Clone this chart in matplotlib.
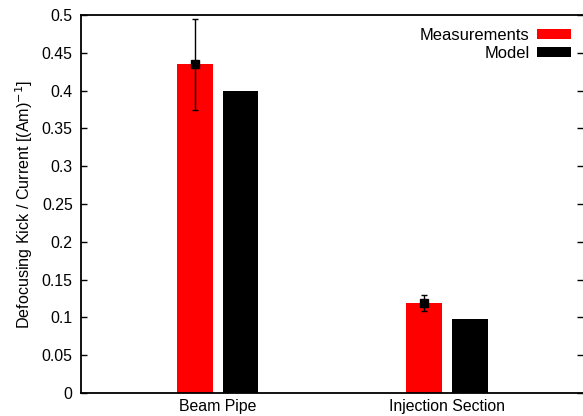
import matplotlib
matplotlib.use("Agg")
import matplotlib.pyplot as plt
from matplotlib.patches import Patch
import numpy as np

plt.rcParams['font.family'] = ['Liberation Sans', 'DejaVu Sans']

categories = ["Beam Pipe", "Injection Section"]
measurements = [0.435, 0.119]
measurement_err = [0.06, 0.01]
model = [0.40, 0.098]

fig = plt.figure(figsize=(5.83, 4.16), dpi=100)
ax = fig.add_axes([81 / 583, 23 / 416, 502 / 583, 378 / 416])

x = np.arange(len(categories))
w = 0.155
off = 0.0995
ax.bar(x - off, measurements, w, color="#ff0000", linewidth=0)
ax.bar(x + off, model, w, color="#000000", linewidth=0)
ax.errorbar(x - off, measurements, yerr=measurement_err, fmt="s", color="black",
            ms=5.5, elinewidth=1.0, capsize=2.5, capthick=1.0)

ax.set_xlim(-0.598, 1.594)
ax.set_ylim(0, 0.5)
ax.set_yticks(np.arange(0, 0.501, 0.05))
ax.set_yticklabels(["0", "0.05", "0.1", "0.15", "0.2", "0.25", "0.3", "0.35",
                    "0.4", "0.45", "0.5"])
ax.set_xticks(x)
ax.set_xticklabels(categories)
ax.tick_params(axis="x", length=0, pad=4, labelsize=11.4)
ax.tick_params(axis="y", direction="in", length=4, width=1, pad=6, labelsize=11.4,
               right=True)
for s in ["left", "bottom", "top"]:
    ax.spines[s].set_linewidth(1.3)
ax.spines["right"].set_visible(False)

ax.set_ylabel("Defocusing Kick / Current [(Am)$^{-1}$]", fontsize=11.6, labelpad=5)

handles = [Patch(facecolor="#ff0000"), Patch(facecolor="#000000")]
ax.legend(handles, ["Measurements", "Model"], loc="upper right", frameon=False,
          markerfirst=False, fontsize=11.9, handlelength=2.05, handleheight=0.55,
          handletextpad=0.45, labelspacing=0.2, borderaxespad=0, borderpad=0,
          bbox_to_anchor=(0.976, 0.966))

fig.savefig("out.png", dpi=100)
